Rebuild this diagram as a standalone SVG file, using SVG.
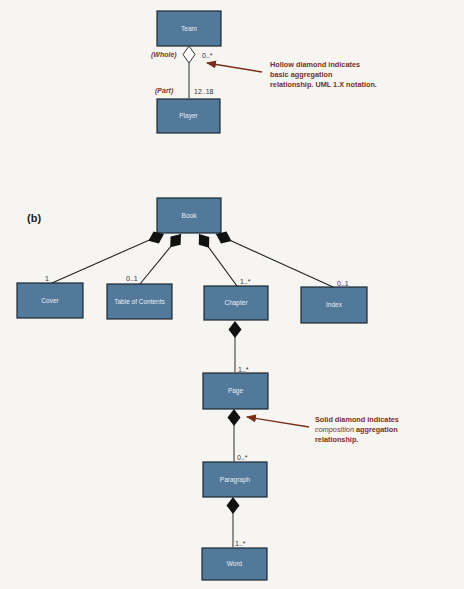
<svg xmlns="http://www.w3.org/2000/svg" width="464" height="589" viewBox="0 0 464 589">
<defs>
<style>
.box{fill:#52799a;stroke:#1d2733;stroke-width:1.2}
.bl{font-family:"Liberation Sans",Arial,sans-serif;font-size:6.5px;fill:#e8eef4;text-anchor:middle}
.m{font-family:"Liberation Sans",Arial,sans-serif;font-size:7px;fill:#333}
.r{font-family:"Liberation Sans",Arial,sans-serif;font-size:7px;font-style:italic;font-weight:bold;fill:#7a3a1e}
.note{font-family:"Liberation Sans",Arial,sans-serif;font-size:7.3px;font-weight:bold;fill:#7a2e1c}
.ln{stroke:#222;stroke-width:1.1;fill:none}
.gl{stroke:#666;stroke-width:1.4;fill:none}
.ar{stroke:#7a2e1c;stroke-width:1.4;fill:none}
.sd{fill:#111}
</style>
<path id="dia" d="M0,0 L8.5,-6.5 L17,0 L8.5,6.5 Z"/>
<marker id="ah" markerWidth="10" markerHeight="8" refX="9" refY="4" orient="auto" markerUnits="userSpaceOnUse">
<path d="M0,0 L10,4 L0,8 Z" fill="#7a2e1c"/>
</marker>
</defs>
<rect width="464" height="589" fill="#f6f5f2"/>

<g id="team"><rect class="box" x="157" y="11" width="64" height="35"/><text class="bl" x="189" y="31">Team</text></g>
<g id="player"><rect class="box" x="157" y="99" width="63" height="34"/><text class="bl" x="188.5" y="118">Player</text></g>
<g id="book"><rect class="box" x="157" y="198" width="64" height="35"/><text class="bl" x="189" y="218">Book</text></g>
<g id="cover"><rect class="box" x="17" y="283" width="66" height="35"/><text class="bl" x="50" y="303">Cover</text></g>
<g id="toc"><rect class="box" x="107" y="284" width="65" height="35"/><text class="bl" x="139.5" y="304">Table of Contents</text></g>
<g id="chapter"><rect class="box" x="204" y="286" width="64" height="34"/><text class="bl" x="236" y="305">Chapter</text></g>
<g id="index"><rect class="box" x="301" y="287" width="66" height="36"/><text class="bl" x="334" y="307">Index</text></g>
<g id="page"><rect class="box" x="203" y="373" width="65" height="36"/><text class="bl" x="235.5" y="393">Page</text></g>
<g id="paragraph"><rect class="box" x="203" y="462" width="64" height="35"/><text class="bl" x="235" y="482">Paragraph</text></g>
<g id="word"><rect class="box" x="202" y="548" width="65" height="32"/><text class="bl" x="234.5" y="566">Word</text></g>

<g id="connectors">
<line class="gl" x1="189" y1="62" x2="189" y2="99"/>
<line class="ln" x1="163" y1="234" x2="52" y2="283"/>
<line class="ln" x1="181" y1="234" x2="140" y2="284"/>
<line class="ln" x1="199" y1="234" x2="237" y2="286"/>
<line class="ln" x1="216" y1="234" x2="333" y2="287"/>
<line class="gl" x1="235" y1="336" x2="235" y2="373"/>
<line class="gl" x1="234" y1="424" x2="234" y2="462"/>
<line class="gl" x1="233" y1="512" x2="233" y2="548"/>
<path d="M189,46 L195,54.5 L189,63 L183,54.5 Z" fill="#fff" stroke="#333" stroke-width="1"/>
<use href="#dia" class="sd" transform="translate(164,234) rotate(156.2)"/>
<use href="#dia" class="sd" transform="translate(181,234) rotate(129.4)"/>
<use href="#dia" class="sd" transform="translate(199,234) rotate(53.8)"/>
<use href="#dia" class="sd" transform="translate(216,234) rotate(24.4)"/>
<use href="#dia" class="sd" transform="translate(235,321) rotate(90)"/>
<use href="#dia" class="sd" transform="translate(234,409) rotate(90)"/>
<use href="#dia" class="sd" transform="translate(233,497) rotate(90)"/>
<line class="ar" x1="262" y1="72" x2="207" y2="63" marker-end="url(#ah)"/>
<line class="ar" x1="309" y1="427" x2="247" y2="417" marker-end="url(#ah)"/>
</g>

<g id="labels">
<text class="r" x="151" y="57">(Whole)</text>
<text class="m" x="202" y="58">0..*</text>
<text class="r" x="155" y="93">(Part)</text>
<text class="m" x="194" y="94">12..18</text>
<text class="note" x="270" y="67">Hollow diamond indicates</text>
<text class="note" x="270" y="77">basic aggregation</text>
<text class="note" x="270" y="87">relationship. UML 1.X notation.</text>
<text x="27" y="222" font-family="Liberation Sans,Arial,sans-serif" font-size="11" font-weight="bold" fill="#222">(b)</text>
<text class="m" x="45" y="281">1</text>
<text class="m" x="126" y="281">0..1</text>
<text class="m" x="240" y="284">1..*</text>
<text class="m" x="337" y="286">0..1</text>
<text class="m" x="238" y="372">1..*</text>
<text class="note" x="315" y="422">Solid diamond indicates</text>
<text class="note" x="315" y="432"><tspan font-style="italic" font-weight="normal">composition</tspan> aggregation</text>
<text class="note" x="315" y="442">relationship.</text>
<text class="m" x="237" y="460">0..*</text>
<text class="m" x="235" y="546">1..*</text>
</g>
</svg>
